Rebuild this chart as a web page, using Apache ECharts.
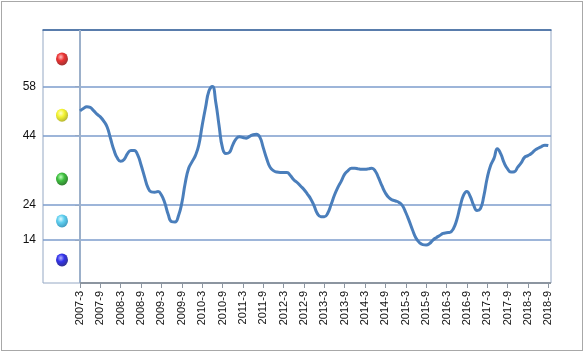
<!DOCTYPE html>
<html>
<head>
<meta charset="utf-8">
<script src="https://cdn.jsdelivr.net/npm/echarts@6/dist/echarts.min.js"></script>
<style>
html,body{margin:0;padding:0;background:#fff;}
#chart{position:absolute;left:0;top:0;width:585px;height:354px;}
#frame{position:absolute;left:1px;top:1px;width:580px;height:348px;border:1px solid #a8a8a8;pointer-events:none;}
</style>
</head>
<body>
<div id="chart"></div>
<div id="frame"></div>
<script>
// Monthly index values, 2007-3 .. 2018-9 (index 0 = 2007-3)
const values = [
  51.0,51.7,52.2,52.0,51.1,50.1,49.3,48.1,46.4,43.1,39.8,37.5,
  36.6,37.1,38.8,39.7,39.7,38.4,35.5,32.2,29.1,27.8,27.7,27.9,
  26.9,24.6,21.3,19.3,19.2,20.9,24.6,30.3,34.5,36.4,38.2,41.2,
  46.8,52.0,56.7,58.0,53.6,46.7,40.4,38.8,39.1,41.2,43.0,43.6,
  43.4,43.2,43.7,44.2,44.3,43.5,40.5,37.4,34.9,33.9,33.5,33.4,
  33.4,33.4,32.5,31.3,30.5,29.5,28.5,27.2,25.8,23.8,21.5,20.7,
  20.7,21.7,24.2,26.9,29.1,30.9,32.9,33.9,34.6,34.6,34.4,34.3,
  34.3,34.4,34.6,33.8,31.8,29.5,27.5,26.2,25.5,25.2,24.8,23.9,
  21.9,19.5,16.9,14.6,13.3,12.7,12.6,13.0,14.0,14.7,15.3,15.9,
  16.1,16.2,17.2,19.7,23.5,26.8,27.9,26.5,24.0,22.5,23.0,26.6,
  31.8,35.4,37.4,40.2,38.7,36.1,34.4,33.5,33.6,34.9,36.1,37.7,
  38.2,38.8,39.7,40.3,40.8,41.2,41.1
];
// x tick positions (month index) and their labels
const tickMonths = [0,6,12,18,24,30,36,42,48,54,60,66,72,78,84,90,96,102,108,114,120,126,132,138];
const tickLabels = ['2007-3','2007-9','2008-3','2008-9','2009-3','2009-9','2010-3','2010-9',
  '2011-3','2011-9','2012-3','2012-9','2013-3','2013-9','2014-3','2014-9',
  '2015-3','2015-9','2016-3','2016-9','2017-3','2017-9','2018-3','2018-9'];
// y axis thresholds
const yTicks = [14, 24, 44, 58];
// signal lamps (zone centres) and colours
const lampValues = [65.9, 49.8, 31.5, 19.5, 8.3];
const lampX = -5.3;
const lampColors = [
  ['#ffb0b0','#e60000','#8a0000'],
  ['#ffffc0','#f2f200','#a8a800'],
  ['#b0ffb0','#10b010','#006000'],
  ['#d8f8ff','#38c4ec','#1486b4'],
  ['#a0a0ff','#0000e6','#00007a']
];

const X_MIN = -10.9, X_MAX = 138.8, Y_MIN = 1.7, Y_MAX = 74.2;

const chart = echarts.init(document.getElementById('chart'), null, {renderer:'canvas'});
const labelMap = {};
tickMonths.forEach((m,i)=>labelMap[m]=tickLabels[i]);

chart.setOption({
  animation:false,
  grid:{left:43,right:34,top:30,bottom:71,show:true,borderColor:'#95a8c4',borderWidth:1,backgroundColor:'#fff'},
  xAxis:[{
    type:'value',min:X_MIN,max:X_MAX,
    axisLine:{show:false},
    splitLine:{show:false},
    axisTick:{show:true,customValues:tickMonths,length:5,lineStyle:{color:'#8c95a0',width:1}},
    axisLabel:{customValues:tickMonths,rotate:90,margin:8,fontSize:11,color:'#111',
      fontFamily:'Liberation Sans, Arial, sans-serif',
      formatter:(v)=>labelMap[Math.round(v)] || ''}
  },{
    type:'value',min:X_MIN,max:X_MAX,position:'top',
    axisLine:{show:true,lineStyle:{color:'#34609a',width:1.5}},
    axisTick:{show:false},axisLabel:{show:false},splitLine:{show:false}
  }],
  yAxis:{
    type:'value',min:Y_MIN,max:Y_MAX,
    axisLine:{show:false},
    axisTick:{show:true,customValues:yTicks,length:5,lineStyle:{color:'#95a8c4'}},
    axisLabel:{customValues:yTicks,margin:7,fontSize:12,color:'#111',fontFamily:'Liberation Sans, Arial, sans-serif'},
    splitLine:{show:true,lineStyle:{color:'#7d9dcc',width:1.5}}
  },
  series:[{
    type:'line',
    data:values.map((v,i)=>[i,v]),
    smooth:0.5,
    showSymbol:false,
    lineStyle:{color:'#4a7ebb',width:3},
    z:5,
    markLine:{
      silent:true,symbol:'none',label:{show:false},animation:false,
      data:[
        [{coord:[0,Y_MIN],lineStyle:{color:'#9cb0ca',width:2,type:'solid'}},{coord:[0,Y_MAX]}],
        [{coord:[0,Y_MIN],lineStyle:{color:'#8c95a0',width:2,type:'solid'}},{coord:[X_MAX,Y_MIN]}]
      ]
    }
  },{
    type:'scatter',
    symbol:'circle',
    symbolSize:[12,13],
    data:lampValues.map((v,i)=>({
      value:[lampX,v],
      itemStyle:{color:{type:'radial',x:0.4,y:0.35,r:0.65,colorStops:[
        {offset:0,color:lampColors[i][0]},
        {offset:0.45,color:lampColors[i][1]},
        {offset:1,color:lampColors[i][2]}]}}
    })),
    z:6
  }]
});
</script>
</body>
</html>
